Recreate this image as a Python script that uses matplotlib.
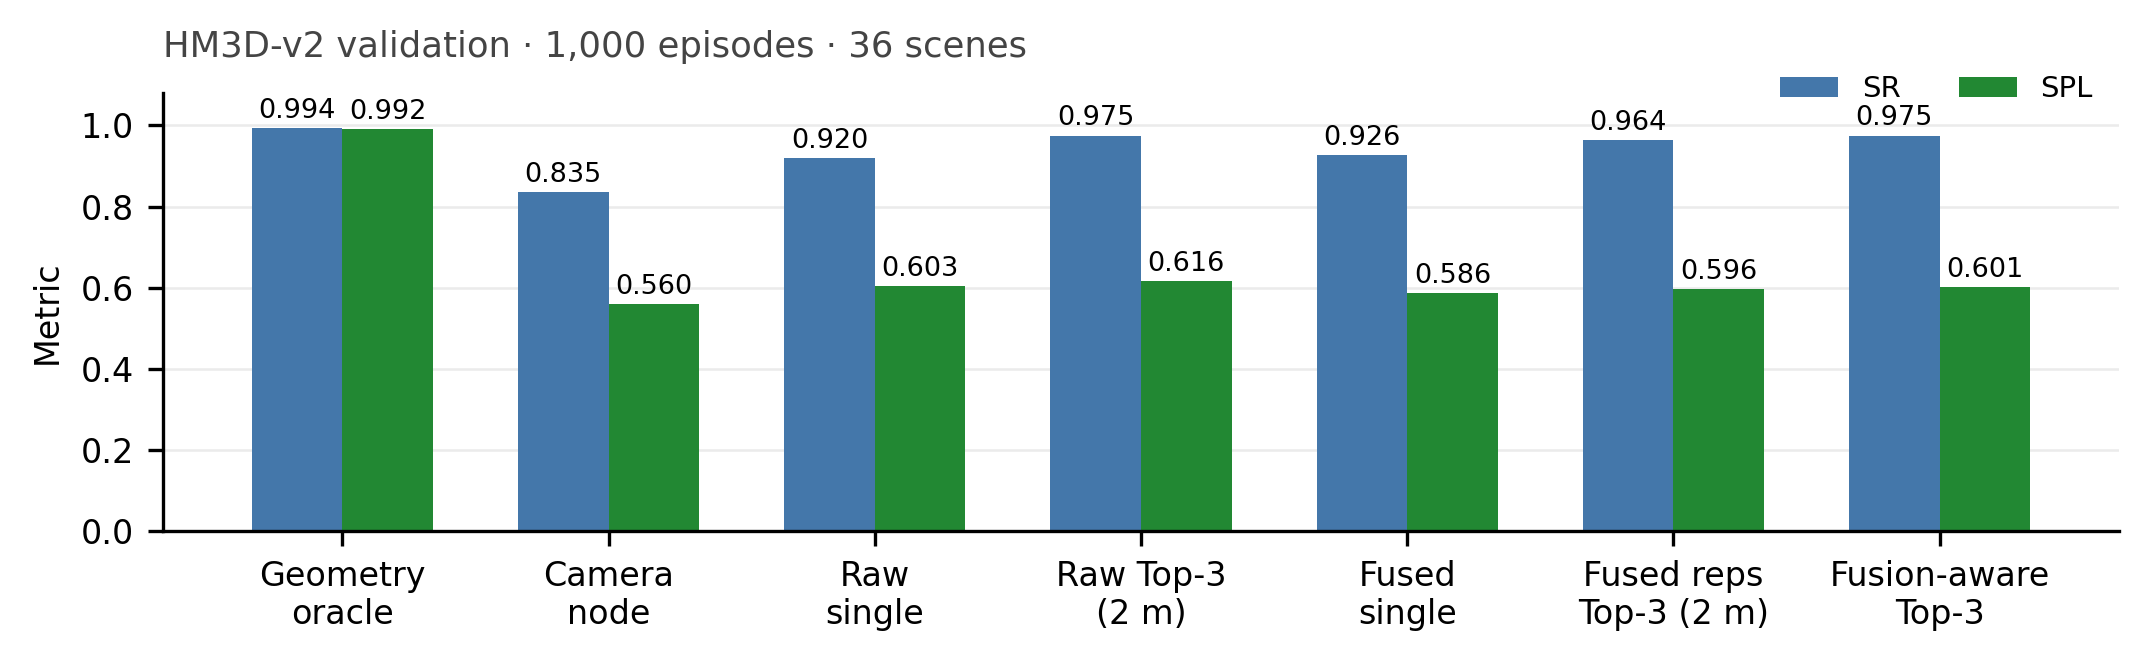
import matplotlib
matplotlib.use("Agg")
import matplotlib.pyplot as plt
import numpy as np

categories = ["Geometry\noracle", "Camera\nnode", "Raw\nsingle", "Raw Top-3\n(2 m)",
              "Fused\nsingle", "Fused reps\nTop-3 (2 m)", "Fusion-aware\nTop-3"]
sr = [0.994, 0.835, 0.920, 0.975, 0.926, 0.964, 0.975]
spl = [0.992, 0.560, 0.603, 0.616, 0.586, 0.596, 0.601]
title = "HM3D-v2 validation · 1,000 episodes · 36 scenes"

plt.rcParams['font.family'] = ['DejaVu Sans']

fig = plt.figure(figsize=(2148/300, 661/300), dpi=300)
ax = fig.add_axes([163/2148, 1-531/661, (2119-163)/2148, (531-93)/661])

x = np.arange(len(categories))
w = 0.34
b1 = ax.bar(x - w/2, sr, w, color="#4477AA", label="SR", zorder=2)
b2 = ax.bar(x + w/2, spl, w, color="#228833", label="SPL", zorder=2)
ax.bar_label(b1, fmt="%.3f", padding=1, fontsize=6.5)
ax.bar_label(b2, fmt="%.3f", padding=1, fontsize=6.5)

ax.set_ylim(0, 1.08)
ax.set_yticks([0.0, 0.2, 0.4, 0.6, 0.8, 1.0])
ax.set_yticklabels([f"{v:.1f}" for v in [0.0, 0.2, 0.4, 0.6, 0.8, 1.0]])
ax.set_xticks(x)
ax.set_xticklabels(categories)
ax.tick_params(labelsize=8)
ax.set_ylabel("Metric", fontsize=8)
ax.yaxis.grid(True, color="#ebebeb", linewidth=0.6, zorder=0)
ax.set_axisbelow(True)
for s in ["top", "right"]:
    ax.spines[s].set_visible(False)

ax.set_title(title, loc="left", fontsize=8.5, color="#444444", pad=8.7)
ax.legend(loc="upper right", bbox_to_anchor=(1.0, 1.10), ncol=2, frameon=False, fontsize=7)

fig.savefig("out.png", dpi=300)
